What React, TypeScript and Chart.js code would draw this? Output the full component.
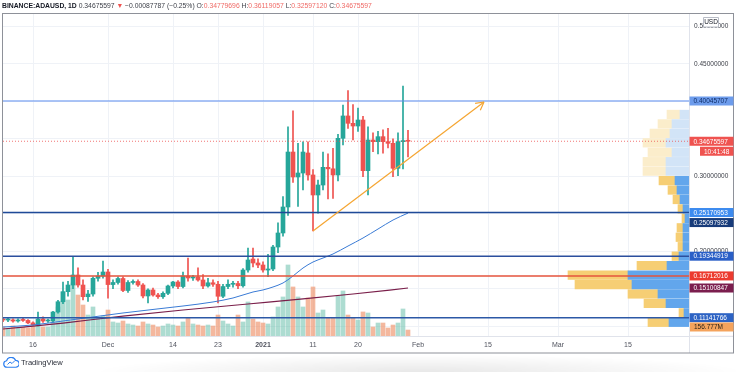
import React, { useEffect, useRef } from 'react';
import { Chart, registerables } from 'chart.js';

Chart.register(...registerables);

const FONT = '"Liberation Sans", Arial, Helvetica, sans-serif';

// ---- data -----------------------------------------------------------------
// day numbers are counted from 1 Jan 2021 (= day 0); first candle is 10 Nov 2020
const SYMBOL = 'BINANCE:ADAUSD, 1D';
const FIRST_DAY = -52;

const opens = [
  0.1085, 0.1083, 0.1085, 0.1070, 0.1083, 0.1078, 0.1045, 0.1017, 0.1097, 0.1070,
  0.1070, 0.1190, 0.1327, 0.1461, 0.1550, 0.1684, 0.1550, 0.1394, 0.1430, 0.1640,
  0.1670, 0.1724, 0.1556, 0.1584, 0.1637, 0.1477, 0.1584, 0.1597, 0.1550, 0.1404,
  0.1484, 0.1417, 0.1394, 0.1439, 0.1537, 0.1590, 0.1530, 0.1670, 0.1644, 0.1657,
  0.1617, 0.1537, 0.1580, 0.1560, 0.1400, 0.1530, 0.1560, 0.1570, 0.1540, 0.1750,
  0.1897, 0.1844, 0.1817, 0.1750, 0.1764, 0.2057, 0.2244, 0.2591, 0.3324, 0.2991,
  0.3044, 0.3311, 0.3018, 0.2751, 0.2884, 0.3120, 0.3100, 0.3018, 0.3507, 0.3805,
  0.3707, 0.3671, 0.3751, 0.3075, 0.3484, 0.3462, 0.3529, 0.3462, 0.3440, 0.3107,
  0.3462, 0.34779696,
];
const highs = [
  0.1110, 0.1105, 0.1100, 0.1100, 0.1105, 0.1090, 0.1060, 0.1190, 0.1125, 0.1095,
  0.1200, 0.1345, 0.1590, 0.1600, 0.1928, 0.1780, 0.1620, 0.1480, 0.1660, 0.1720,
  0.1870, 0.1760, 0.1620, 0.1660, 0.1660, 0.1610, 0.1620, 0.1620, 0.1570, 0.1500,
  0.1510, 0.1440, 0.1460, 0.1550, 0.1600, 0.1610, 0.1724, 0.1910, 0.1680, 0.1780,
  0.1690, 0.1640, 0.1620, 0.1600, 0.1560, 0.1620, 0.1600, 0.1600, 0.1770, 0.2044,
  0.2044, 0.1900, 0.1860, 0.1960, 0.2080, 0.2380, 0.2728, 0.3660, 0.3875, 0.3440,
  0.3460, 0.3460, 0.3090, 0.2950, 0.3324, 0.3300, 0.3374, 0.3560, 0.3950, 0.4142,
  0.3956, 0.3910, 0.3800, 0.3660, 0.3580, 0.3600, 0.3620, 0.3640, 0.3500, 0.3580,
  0.4205, 0.36119057,
];
const lows = [
  0.1060, 0.1060, 0.1055, 0.1055, 0.1065, 0.1035, 0.1010, 0.1005, 0.1050, 0.1050,
  0.1055, 0.1175, 0.1300, 0.1400, 0.1500, 0.1520, 0.1350, 0.1330, 0.1400, 0.1600,
  0.1640, 0.1376, 0.1500, 0.1560, 0.1460, 0.1450, 0.1560, 0.1530, 0.1377, 0.1310,
  0.1400, 0.1370, 0.1370, 0.1420, 0.1510, 0.1500, 0.1510, 0.1600, 0.1610, 0.1600,
  0.1500, 0.1520, 0.1530, 0.1310, 0.1380, 0.1500, 0.1520, 0.1500, 0.1520, 0.1720,
  0.1790, 0.1780, 0.1720, 0.1660, 0.1740, 0.1980, 0.2200, 0.2480, 0.2920, 0.2600,
  0.2820, 0.2950, 0.2270, 0.2510, 0.2820, 0.2700, 0.2706, 0.2940, 0.3420, 0.3640,
  0.3484, 0.3600, 0.2995, 0.2751, 0.3330, 0.3300, 0.3310, 0.3380, 0.2995, 0.3010,
  0.3100, 0.32597120,
];
const closes = [
  0.1083, 0.1085, 0.1070, 0.1083, 0.1078, 0.1045, 0.1017, 0.1097, 0.1070, 0.1072,
  0.1190, 0.1327, 0.1461, 0.1550, 0.1684, 0.1550, 0.1394, 0.1430, 0.1640, 0.1670,
  0.1724, 0.1556, 0.1584, 0.1637, 0.1477, 0.1584, 0.1597, 0.1550, 0.1404, 0.1484,
  0.1417, 0.1394, 0.1439, 0.1537, 0.1590, 0.1530, 0.1670, 0.1644, 0.1650, 0.1617,
  0.1537, 0.1580, 0.1560, 0.1400, 0.1530, 0.1560, 0.1565, 0.1540, 0.1750, 0.1884,
  0.1844, 0.1817, 0.1750, 0.1764, 0.2057, 0.2244, 0.2591, 0.3324, 0.2991, 0.3044,
  0.3324, 0.3018, 0.2751, 0.2884, 0.3120, 0.3100, 0.3018, 0.3507, 0.3805, 0.3707,
  0.3671, 0.3751, 0.3075, 0.3484, 0.3462, 0.3529, 0.3462, 0.3440, 0.3107, 0.3462,
  0.34763384, 0.34675597,
];
// daily volume, millions
const volumes = [
  157, 139, 174, 139, 157, 139, 174, 191, 157, 157,
  244, 505, 766, 626, 922, 713, 539, 365, 505, 313,
  348, 452, 244, 226, 261, 209, 191, 174, 244, 209,
  191, 157, 174, 209, 191, 174, 244, 313, 209, 191,
  174, 191, 174, 365, 261, 209, 174, 365, 244, 592,
  296, 244, 226, 209, 331, 505, 679, 1235, 853, 679,
  505, 661, 853, 400, 452, 313, 313, 696, 783, 365,
  313, 278, 418, 400, 157, 226, 226, 139, 191, 226,
  470, 104,
];

const tickDays = [-46, -31, -18, -9, 0, 10, 19, 31, 45, 59, 73];
const tickLabels = ['16', 'Dec', '14', '23', '2021', '11', '20', 'Feb', '15', 'Mar', '15'];
const priceTicks = [0.10, 0.15, 0.20, 0.25, 0.30, 0.35, 0.40, 0.45, 0.50];

const maFastDays = [-52, -46, -40, -34, -28, -22, -16, -10, -6, -2, 0, 2, 4, 6, 8, 10, 12, 14, 17, 20, 23, 26, 29];
const maFastValues = [0.0990, 0.1017, 0.1070, 0.1124, 0.1177, 0.1224, 0.1270, 0.1324, 0.1377, 0.1457, 0.1484, 0.1524, 0.1577, 0.1670, 0.1777, 0.1857, 0.1910, 0.1964, 0.2070, 0.2177, 0.2297, 0.2417, 0.25097932];
const maSlowDays = [-52, -40, -28, -16, -3, 8, 18, 29];
const maSlowValues = [0.0963, 0.1043, 0.1136, 0.1217, 0.1297, 0.1364, 0.1430, 0.15100847];

const levelValues = [0.40045707, 0.25170953, 0.19344919, 0.16712016, 0.11141766];
const levelColors = ['#5b8def', '#1f4a98', '#2b4f9e', '#e4533c', '#2c58a6'];
const levelWidths = [1, 1.5, 1.5, 1.5, 1.5];

const trendDays = [10, 44.2];
const trendValues = [0.2270, 0.3991];

// visible-range volume profile rows (price centre, up volume, down volume)
const profilePrices = [0.3825, 0.3699, 0.3573, 0.3447, 0.3321, 0.3195, 0.3069, 0.2943, 0.2817, 0.2691, 0.2565, 0.2439, 0.2313, 0.2187, 0.2061, 0.1935, 0.1809, 0.1683, 0.1557, 0.1431, 0.1305, 0.1179, 0.1053];
const profileUp = [9, 17, 19, 23, 17, 23, 23, 14, 12, 9, 6, 4, 6, 6, 6, 10, 22, 61, 57, 31, 23, 5, 20];
const profileDown = [13, 14, 20, 23, 24, 23, 23, 16, 9, 7, 5, 3, 6, 7, 5, 7, 30, 60, 57, 30, 22, 5, 21];
const VALUE_AREA_HIGH = 0.30;

const volumeMaLabel = 156.777;
const lastVolumeLabel = 44.539;
const countdown = '10:41:48';

// ---- helpers ---------------------------------------------------------------
const X_MIN = -52;
const X_MAX = 85.2;
const Y_MIN = 0.087;
const Y_MAX = 0.5165;
const VOL_MAX = 5600;
const UP = '#26a69a';
const DOWN = '#ef5350';

const dayOf = (i: number) => FIRST_DAY + i;
const isUp = (i: number) => closes[i] >= opens[i];

type AxisLabel = { value: number; text: string; bg: string; fg: string; shift?: number; scale?: string; left?: number };

const last = closes.length - 1;
const lastClose = closes[last];
const prevClose = closes[last - 1];

const axisLabels: AxisLabel[] = [
  { value: levelValues[0], text: levelValues[0].toFixed(8), bg: '#6d9cec', fg: '#0f2c66' },
  { value: lastClose, text: lastClose.toFixed(8), bg: '#ef5350', fg: '#ffffff' },
  { value: lastClose, text: countdown, bg: '#ef5350', fg: '#ffffff', shift: 10, left: 700 },
  { value: levelValues[1], text: levelValues[1].toFixed(8), bg: '#3d8bef', fg: '#ffffff' },
  { value: maFastValues[maFastValues.length - 1], text: maFastValues[maFastValues.length - 1].toFixed(8), bg: '#173b7a', fg: '#ffffff', shift: 9.5 },
  { value: levelValues[2], text: levelValues[2].toFixed(8), bg: '#2a5fc7', fg: '#ffffff' },
  { value: levelValues[3], text: levelValues[3].toFixed(8), bg: '#ec3b2f', fg: '#ffffff' },
  { value: maSlowValues[maSlowValues.length - 1], text: maSlowValues[maSlowValues.length - 1].toFixed(8), bg: '#7b1e4e', fg: '#ffffff' },
  { value: levelValues[4], text: levelValues[4].toFixed(8), bg: '#2d63c4', fg: '#ffffff' },
  { value: lastVolumeLabel, text: lastVolumeLabel.toFixed(3) + 'M', bg: '#ef5350', fg: '#ffffff', scale: 'yv', shift: 7, left: 690 },
  { value: volumeMaLabel, text: volumeMaLabel.toFixed(3) + 'M', bg: '#f5a35c', fg: '#2b2218', scale: 'yv', left: 690 },
];

// price-equivalent position of every axis label (volume labels mapped onto the price range)
const labelPriceSpots = axisLabels
  .filter((l) => !l.shift)
  .map((l) => (l.scale === 'yv' ? Y_MIN + (l.value / VOL_MAX) * (Y_MAX - Y_MIN) : l.value));
// a tick label is hidden when an axis label sits almost on top of it
const tickHidden = (v: number) => labelPriceSpots.some((p) => Math.abs(p - v) < 0.006);

const overlayPlugin = {
  id: 'overlay',
  afterDraw(chart: any) {
    const { ctx, chartArea, scales } = chart;
    const xs = scales.x;
    const ys = scales.y;
    ctx.save();

    // arrow head on the trend line
    const x1 = xs.getPixelForValue(trendDays[0]);
    const y1 = ys.getPixelForValue(trendValues[0]);
    const x2 = xs.getPixelForValue(trendDays[1]);
    const y2 = ys.getPixelForValue(trendValues[1]);
    const ang = Math.atan2(y2 - y1, x2 - x1);
    ctx.strokeStyle = '#f5a531';
    ctx.lineWidth = 1.2;
    ctx.beginPath();
    for (const s of [-1, 1]) {
      ctx.moveTo(x2, y2);
      ctx.lineTo(x2 - 9 * Math.cos(ang + s * 0.5), y2 - 9 * Math.sin(ang + s * 0.5));
    }
    ctx.stroke();

    // separators and frame
    ctx.strokeStyle = '#e0e3eb';
    ctx.lineWidth = 1;
    ctx.beginPath();
    ctx.moveTo(chartArea.right + 0.5, chartArea.top);
    ctx.lineTo(chartArea.right + 0.5, 353);
    ctx.moveTo(chartArea.left, chartArea.bottom + 0.5);
    ctx.lineTo(734, chartArea.bottom + 0.5);
    ctx.stroke();
    ctx.strokeStyle = '#8e9199';
    ctx.strokeRect(2.5, 13.5, 731, 339.5);

    // axis labels
    ctx.font = '6.5px ' + FONT;
    ctx.textBaseline = 'middle';
    ctx.textAlign = 'left';
    for (const l of axisLabels) {
      const sc = scales[l.scale || 'y'];
      const y = sc.getPixelForValue(l.value) + (l.shift || 0);
      const left = l.left || chartArea.right + 0.5;
      const w = 733.5 - left;
      ctx.save();
      if (l.scale === 'yv') {
        ctx.beginPath();
        ctx.rect(chartArea.right, chartArea.top, 50, chartArea.bottom - chartArea.top);
        ctx.clip();
      }
      ctx.fillStyle = l.bg;
      ctx.fillRect(left, y - 4.5, w, 9);
      ctx.fillStyle = l.fg;
      ctx.fillText(l.text, left + 4, y + 0.5);
      ctx.restore();
    }

    // currency box
    ctx.fillStyle = '#ffffff';
    ctx.strokeStyle = '#b8bcc6';
    ctx.beginPath();
    ctx.rect(703.5, 17.5, 15, 9.5);
    ctx.fill();
    ctx.stroke();
    ctx.fillStyle = '#131722';
    ctx.textAlign = 'center';
    ctx.fillText('USD', 711, 22.5);
    ctx.restore();
  },
};

export default function App() {
  const ref = useRef<HTMLCanvasElement | null>(null);

  useEffect(() => {
    if (!ref.current) return;
    const candleDays = opens.map((_, i) => dayOf(i));

    const datasets: any[] = [
      {
        type: 'bar',
        label: 'volume',
        data: volumes.map((v, i) => ({ x: candleDays[i], y: v })),
        backgroundColor: volumes.map((_, i) => (isUp(i) ? 'rgba(92,186,164,0.5)' : 'rgba(238,140,98,0.62)')),
        barThickness: 4,
        grouped: false,
        yAxisID: 'yv',
        xAxisID: 'x',
        order: 20,
      },
      {
        type: 'bar',
        label: 'profile up',
        indexAxis: 'y',
        data: profilePrices.map((p, i) => ({ y: p, x: [0, profileUp[i]] })),
        backgroundColor: profilePrices.map((p) => (p < VALUE_AREA_HIGH ? '#62a6ec' : '#d2e4f7')),
        barThickness: 8.6,
        grouped: false,
        xAxisID: 'xp',
        yAxisID: 'y',
        order: 15,
      },
      {
        type: 'bar',
        label: 'profile down',
        indexAxis: 'y',
        data: profilePrices.map((p, i) => ({ y: p, x: [profileUp[i], profileUp[i] + profileDown[i]] })),
        backgroundColor: profilePrices.map((p) => (p < VALUE_AREA_HIGH ? '#f6ce74' : '#fbedcb')),
        barThickness: 8.6,
        grouped: false,
        xAxisID: 'xp',
        yAxisID: 'y',
        order: 15,
      },
      {
        type: 'bar',
        label: 'wicks',
        data: lows.map((l, i) => ({ x: candleDays[i], y: [l, highs[i]] })),
        backgroundColor: opens.map((_, i) => (isUp(i) ? UP : DOWN)),
        barThickness: 1,
        grouped: false,
        xAxisID: 'x',
        yAxisID: 'y',
        order: 12,
      },
      {
        type: 'bar',
        label: 'bodies',
        data: opens.map((o, i) => ({ x: candleDays[i], y: [o, closes[i]] })),
        backgroundColor: opens.map((_, i) => (isUp(i) ? UP : DOWN)),
        barThickness: 4,
        minBarLength: 1,
        grouped: false,
        xAxisID: 'x',
        yAxisID: 'y',
        order: 11,
      },
      {
        type: 'line',
        label: 'MA fast',
        data: maFastDays.map((d, i) => ({ x: d, y: maFastValues[i] })),
        borderColor: '#3a7bd5',
        borderWidth: 1,
        pointRadius: 0,
        cubicInterpolationMode: 'monotone',
        xAxisID: 'x',
        yAxisID: 'y',
        order: 8,
      },
      {
        type: 'line',
        label: 'MA slow',
        data: maSlowDays.map((d, i) => ({ x: d, y: maSlowValues[i] })),
        borderColor: '#7a1f4a',
        borderWidth: 1.2,
        pointRadius: 0,
        cubicInterpolationMode: 'monotone',
        xAxisID: 'x',
        yAxisID: 'y',
        order: 8,
      },
      {
        type: 'line',
        label: 'last price',
        data: [{ x: X_MIN, y: lastClose }, { x: X_MAX, y: lastClose }],
        borderColor: 'rgba(239,83,80,0.8)',
        borderWidth: 1,
        borderDash: [1, 2],
        pointRadius: 0,
        xAxisID: 'x',
        yAxisID: 'y',
        order: 6,
      },
      ...levelValues.map((v, k) => ({
        type: 'line',
        label: 'level ' + v,
        data: [{ x: X_MIN, y: v }, { x: X_MAX, y: v }],
        borderColor: levelColors[k],
        borderWidth: levelWidths[k],
        pointRadius: 0,
        xAxisID: 'x',
        yAxisID: 'y',
        order: 5,
      })),
      {
        type: 'line',
        label: 'trend',
        data: trendDays.map((d, i) => ({ x: d, y: trendValues[i] })),
        borderColor: '#f5a531',
        borderWidth: 1.2,
        pointRadius: 0,
        xAxisID: 'x',
        yAxisID: 'y',
        order: 1,
      },
    ];

    const chart = new Chart(ref.current, {
      type: 'line',
      data: { datasets },
      options: {
        animation: false,
        responsive: false,
        devicePixelRatio: 1,
        events: [],
        layout: { padding: { left: 3, top: 14, right: 2, bottom: 19 } },
        plugins: { legend: { display: false }, tooltip: { enabled: false } },
        scales: {
          x: {
            type: 'linear',
            position: 'bottom',
            min: X_MIN,
            max: X_MAX,
            offset: false,
            afterBuildTicks: (s: any) => {
              s.ticks = tickDays.map((v) => ({ value: v }));
            },
            afterFit: (s: any) => {
              s.height = 17;
            },
            ticks: {
              autoSkip: false,
              maxRotation: 0,
              padding: 5,
              color: '#50535e',
              font: (c: any) => ({ family: FONT, size: 7, weight: c.tick && c.tick.value === 0 ? 'bold' : 'normal' }),
              callback: (v: any) => {
                const k = tickDays.indexOf(Number(v));
                return k >= 0 ? tickLabels[k] : '';
              },
            },
            grid: { color: '#eff2f7', drawTicks: false, offset: false },
            border: { display: false },
          },
          y: {
            type: 'linear',
            position: 'right',
            min: Y_MIN,
            max: Y_MAX,
            offset: false,
            afterBuildTicks: (s: any) => {
              s.ticks = priceTicks.map((v) => ({ value: v }));
            },
            afterFit: (s: any) => {
              s.width = 45;
            },
            ticks: {
              padding: 5,
              color: '#3b3e47',
              font: { family: FONT, size: 6.5 },
              callback: (v: any) => (tickHidden(Number(v)) ? '' : Number(v).toFixed(8)),
            },
            grid: { color: '#eff2f7', drawTicks: false, offset: false },
            border: { display: false },
          },
          yv: { type: 'linear', display: false, min: 0, max: VOL_MAX, offset: false },
          xp: { type: 'linear', display: false, min: 0, max: 686, reverse: true, offset: false },
        },
      } as any,
      plugins: [overlayPlugin],
    });
    return () => chart.destroy();
  }, []);

  const change = lastClose - prevClose;
  const pct = (change / prevClose) * 100;
  const signed = (n: number, digits: number) => (n < 0 ? '\u2212' : '+') + Math.abs(n).toFixed(digits);
  const red = '#ef6a66';

  return (
    <div style={{ position: 'fixed', left: 0, top: 0, width: 736, height: 372, background: '#ffffff', overflow: 'hidden' }}>
      <canvas ref={ref} width={736} height={372} style={{ position: 'absolute', left: 0, top: 0, width: 736, height: 372 }} />
      <div
        style={{
          position: 'absolute',
          left: 2,
          top: 1,
          fontFamily: FONT,
          fontSize: 6.8,
          lineHeight: '10px',
          whiteSpace: 'nowrap',
          color: '#3b3e47',
        }}
      >
        <span style={{ fontWeight: 'bold', color: '#131722' }}>{SYMBOL}</span>{' '}
        <span>{lastClose.toFixed(8)}</span> <span style={{ color: DOWN }}>{'\u25BC'}</span>{' '}
        <span>{signed(change, 8)}</span> <span>({signed(pct, 2)}%)</span>{' '}
        O:<span style={{ color: red }}>{opens[last].toFixed(8)}</span> H:<span style={{ color: red }}>{highs[last].toFixed(8)}</span>{' '}
        L:<span style={{ color: red }}>{lows[last].toFixed(8)}</span> C:<span style={{ color: red }}>{closes[last].toFixed(8)}</span>
      </div>
      <div
        style={{
          position: 'absolute',
          left: 100,
          top: 355,
          width: 640,
          height: 17,
          background: 'radial-gradient(ellipse at 50% 100%, rgba(0,0,0,0.09), rgba(0,0,0,0) 72%)',
        }}
      />
      <div style={{ position: 'absolute', left: 3, top: 357, display: 'flex', alignItems: 'center', fontFamily: FONT, fontSize: 7.6, color: '#2a2e39' }}>
        <svg width="16" height="11" viewBox="0 0 32 22" style={{ marginRight: 2 }}>
          <path d="M8 20.5a6.5 6.5 0 0 1-0.8-12.95A9.5 9.5 0 0 1 25.2 6.6a6.5 6.5 0 0 1 0.3 13.9z" fill="#ffffff" stroke="#2d7ff0" strokeWidth="2.4" />
          <path d="M9 15l5-5 4 3 6-6" fill="none" stroke="#2d7ff0" strokeWidth="2" />
        </svg>
        <span>TradingView</span>
      </div>
    </div>
  );
}
